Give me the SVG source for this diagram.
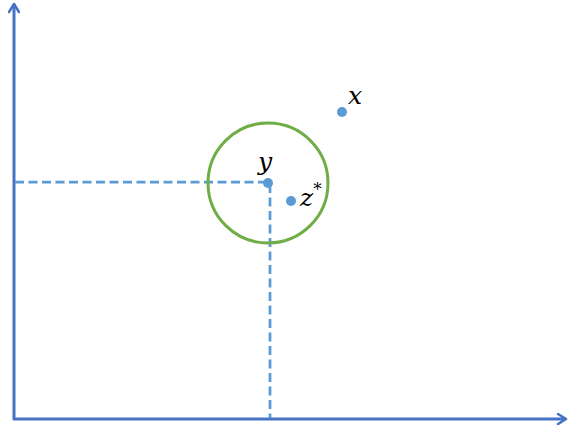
<svg xmlns="http://www.w3.org/2000/svg" width="568" height="432" viewBox="0 0 568 432">
<defs>
<style>
.axis{stroke:#4472C4;stroke-width:3;fill:none}
.dash{stroke:#5B9BD5;stroke-width:2.75;stroke-dasharray:9,4.5;fill:none}
.pt{fill:#5B9BD5}
.lbl{font-family:"DejaVu Serif",serif;font-style:italic;font-size:25px;fill:#000}
</style>
<marker id="arr" viewBox="0 0 12 12" refX="10" refY="6" markerWidth="12" markerHeight="12" markerUnits="userSpaceOnUse" orient="auto">
<path d="M2,1 L10,6 L2,11" fill="none" stroke="#4472C4" stroke-width="2.5" stroke-linecap="round" stroke-linejoin="round"/>
</marker>
</defs>
<rect width="568" height="432" fill="#fff"/>
<g id="connectors">
<line class="axis" x1="14" y1="420" x2="14" y2="4" marker-end="url(#arr)"/>
<line class="axis" x1="13" y1="419" x2="566" y2="419" marker-end="url(#arr)"/>
<line class="dash" x1="15" y1="182" x2="268" y2="182"/>
<line class="dash" x1="270" y1="184" x2="270" y2="418"/>
</g>
<g id="circle"><circle cx="268" cy="183" r="60" fill="none" stroke="#70AD47" stroke-width="3"/></g>
<g id="node-y"><circle class="pt" cx="268" cy="183" r="5"/><text class="lbl" x="258" y="170">y</text></g>
<g id="node-z"><circle class="pt" cx="291" cy="201" r="5"/><text class="lbl" x="300" y="206">z<tspan font-size="17" dy="-11">*</tspan></text></g>
<g id="node-x"><circle class="pt" cx="342" cy="112" r="5"/><text class="lbl" x="348" y="104">x</text></g>
</svg>
